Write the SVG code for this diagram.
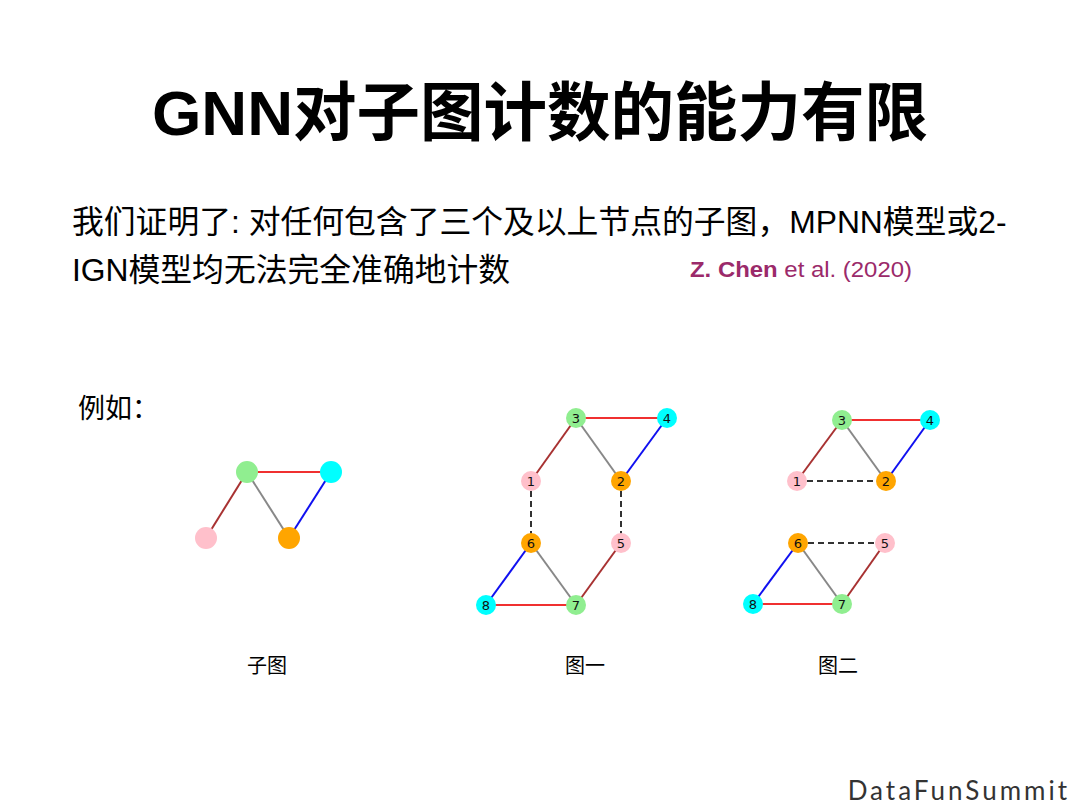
<svg xmlns="http://www.w3.org/2000/svg" width="1080" height="810" viewBox="0 0 1080 810">
<style>
.cjk{font-family:"Liberation Sans","Noto Sans CJK SC",sans-serif;fill:#000}
.e{stroke-width:2;fill:none}
.red{stroke:#f03030}
.brown{stroke:#a83232}
.gray{stroke:#888}
.blue{stroke:#1010f0}
.dash{stroke:#333;stroke-dasharray:6,4}
.pink{fill:#ffc0cb}
.green{fill:#90ee90}
.cyan{fill:#00ffff}
.orange{fill:#ffa500}
.lbl{font-family:"DejaVu Sans",sans-serif;font-size:13px;text-anchor:middle;fill:#111}
</style>
<rect width="1080" height="810" fill="#fff"/>
<g id="title"><text class="cjk" x="540" y="135" font-size="63.5" font-weight="bold" text-anchor="middle">GNN对子图计数的能力有限</text></g>
<g id="body">
<text class="cjk" x="72" y="233" font-size="31.8">我们证明了: 对任何包含了三个及以上节点的子图，MPNN模型或2-</text>
<text class="cjk" x="72" y="281" font-size="31.8">IGN模型均无法完全准确地计数</text>
<text x="690" y="277" font-family="Liberation Sans,sans-serif" font-size="22" fill="#9b2a6a" textLength="222" lengthAdjust="spacingAndGlyphs"><tspan font-weight="bold">Z. Chen</tspan> et al. (2020)</text>
<text class="cjk" x="78" y="418" font-size="27">例如：</text>
</g>
<g id="connectors">
<line class="e brown" x1="206" y1="538" x2="247" y2="472"/>
<line class="e red" x1="247" y1="472" x2="331" y2="472"/>
<line class="e gray" x1="247" y1="472" x2="289" y2="538"/>
<line class="e blue" x1="331" y1="472" x2="289" y2="538"/>

<line class="e brown" x1="531" y1="481" x2="576" y2="418"/>
<line class="e red" x1="576" y1="418" x2="667" y2="418"/>
<line class="e gray" x1="576" y1="418" x2="621" y2="481"/>
<line class="e blue" x1="667" y1="418" x2="621" y2="481"/>
<line class="e dash" x1="531" y1="481" x2="531" y2="543"/>
<line class="e dash" x1="621" y1="481" x2="621" y2="543"/>
<line class="e blue" x1="531" y1="543" x2="486" y2="605"/>
<line class="e gray" x1="531" y1="543" x2="576" y2="605"/>
<line class="e red" x1="486" y1="605" x2="576" y2="605"/>
<line class="e brown" x1="621" y1="543" x2="576" y2="605"/>

<line class="e brown" x1="797" y1="481" x2="842" y2="420"/>
<line class="e red" x1="842" y1="420" x2="930" y2="420"/>
<line class="e gray" x1="842" y1="420" x2="886" y2="481"/>
<line class="e blue" x1="930" y1="420" x2="886" y2="481"/>
<line class="e dash" x1="797" y1="481" x2="886" y2="481"/>
<line class="e dash" x1="798" y1="543" x2="885" y2="543"/>
<line class="e blue" x1="798" y1="543" x2="753" y2="604"/>
<line class="e gray" x1="798" y1="543" x2="842" y2="604"/>
<line class="e red" x1="753" y1="604" x2="842" y2="604"/>
<line class="e brown" x1="885" y1="543" x2="842" y2="604"/>
</g>
<g id="sub-green"><circle class="green" cx="247" cy="472" r="11"/></g>
<g id="sub-cyan"><circle class="cyan" cx="331" cy="472" r="11"/></g>
<g id="sub-pink"><circle class="pink" cx="206" cy="538" r="11"/></g>
<g id="sub-orange"><circle class="orange" cx="289" cy="538" r="11"/></g>

<g id="g1-n3"><circle class="green" cx="576" cy="418" r="10"/><text class="lbl" x="576" y="423">3</text></g>
<g id="g1-n4"><circle class="cyan" cx="667" cy="418" r="10"/><text class="lbl" x="667" y="423">4</text></g>
<g id="g1-n1"><circle class="pink" cx="531" cy="481" r="10"/><text class="lbl" x="531" y="486">1</text></g>
<g id="g1-n2"><circle class="orange" cx="621" cy="481" r="10"/><text class="lbl" x="621" y="486">2</text></g>
<g id="g1-n6"><circle class="orange" cx="531" cy="543" r="10"/><text class="lbl" x="531" y="548">6</text></g>
<g id="g1-n5"><circle class="pink" cx="621" cy="543" r="10"/><text class="lbl" x="621" y="548">5</text></g>
<g id="g1-n8"><circle class="cyan" cx="486" cy="605" r="10"/><text class="lbl" x="486" y="610">8</text></g>
<g id="g1-n7"><circle class="green" cx="576" cy="605" r="10"/><text class="lbl" x="576" y="610">7</text></g>

<g id="g2-n3"><circle class="green" cx="842" cy="420" r="10"/><text class="lbl" x="842" y="425">3</text></g>
<g id="g2-n4"><circle class="cyan" cx="930" cy="420" r="10"/><text class="lbl" x="930" y="425">4</text></g>
<g id="g2-n1"><circle class="pink" cx="797" cy="481" r="10"/><text class="lbl" x="797" y="486">1</text></g>
<g id="g2-n2"><circle class="orange" cx="886" cy="481" r="10"/><text class="lbl" x="886" y="486">2</text></g>
<g id="g2-n6"><circle class="orange" cx="798" cy="543" r="10"/><text class="lbl" x="798" y="548">6</text></g>
<g id="g2-n5"><circle class="pink" cx="885" cy="543" r="10"/><text class="lbl" x="885" y="548">5</text></g>
<g id="g2-n8"><circle class="cyan" cx="753" cy="604" r="10"/><text class="lbl" x="753" y="609">8</text></g>
<g id="g2-n7"><circle class="green" cx="842" cy="604" r="10"/><text class="lbl" x="842" y="609">7</text></g>

<g id="captions">
<text class="cjk" x="267" y="673" font-size="20" text-anchor="middle">子图</text>
<text class="cjk" x="585" y="673" font-size="20" text-anchor="middle">图一</text>
<text class="cjk" x="838" y="673" font-size="20" text-anchor="middle">图二</text>
</g>
<g id="footer"><text x="1070" y="800" font-family="Lato,sans-serif" font-size="26" fill="#333" letter-spacing="3" text-anchor="end">DataFunSummit</text></g>
</svg>
